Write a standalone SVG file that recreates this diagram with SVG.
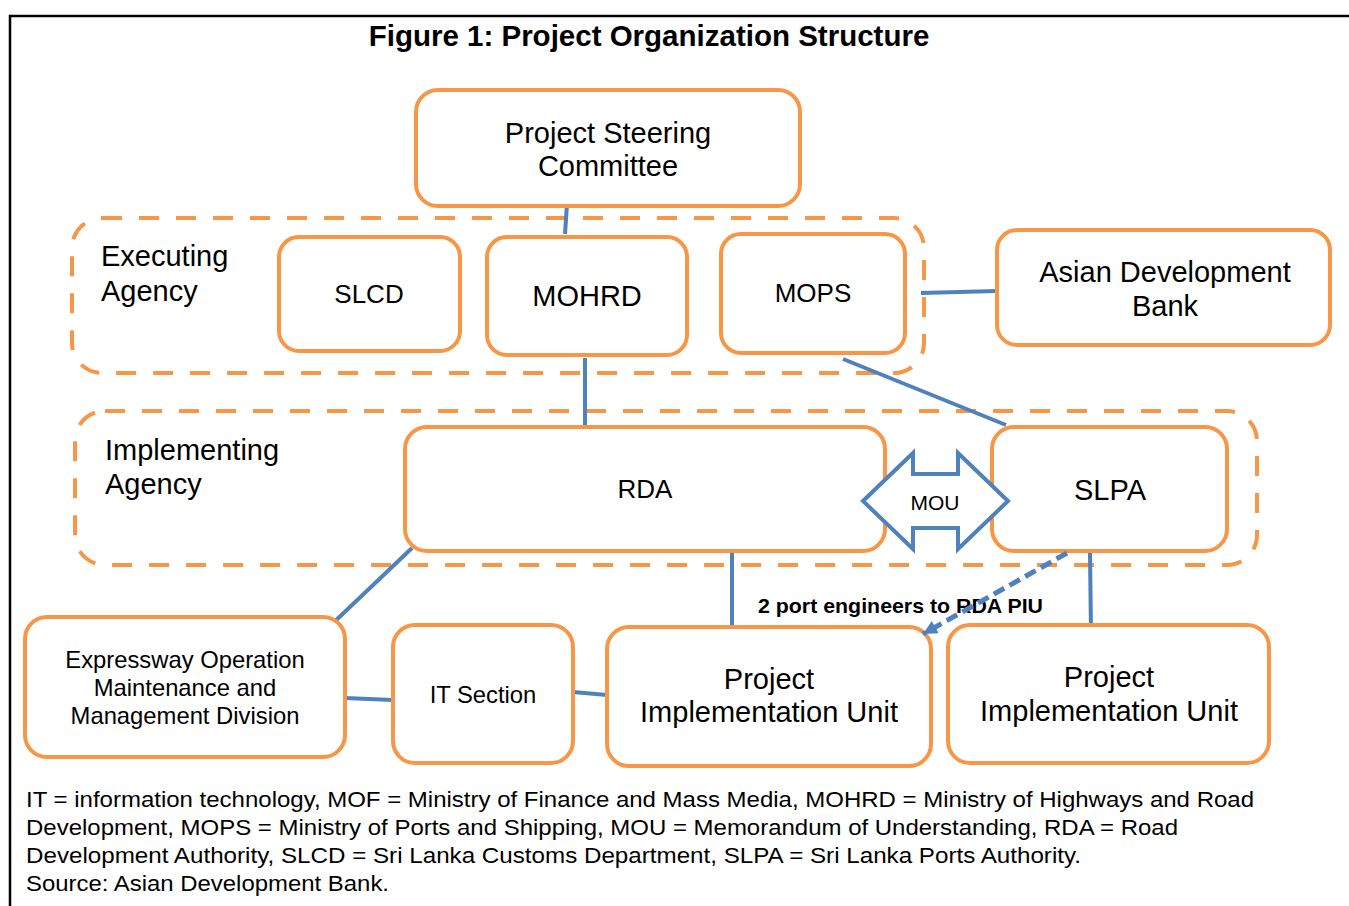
<svg xmlns="http://www.w3.org/2000/svg" width="1349" height="906" viewBox="0 0 1349 906">
  <style>
    text { font-family: "Liberation Sans", Arial, sans-serif; fill: #000; }
    .box { fill: #fff; stroke: #F79646; stroke-width: 4; }
    .group { fill: none; stroke: #F79646; stroke-width: 4; stroke-dasharray: 20 17; }
    .link { fill: none; stroke: #4F81BD; stroke-width: 4; }
    .big { font-size: 29px; text-anchor: middle; }
    .mid { font-size: 26px; text-anchor: middle; }
    .small { font-size: 23.8px; text-anchor: middle; }
    .grp-label { font-size: 29px; }
    .note { font-size: 22px; }
  </style>
  <defs>
    <marker id="ah" viewBox="0 0 10 10" refX="10" refY="5" markerWidth="17" markerHeight="14" markerUnits="userSpaceOnUse" orient="auto">
      <path d="M0,0 L10,5 L0,10 z" fill="#4F81BD"/>
    </marker>
  </defs>

  <rect width="1349" height="906" fill="#fff"/>
  <!-- figure frame -->
  <path d="M10,906 V16 H1349" fill="none" stroke="#000" stroke-width="2.5"/>

  <text x="649" y="46" font-size="29.5" font-weight="bold" text-anchor="middle">Figure 1: Project Organization Structure</text>

  <!-- agency groupings -->
  <g id="executing-agency">
    <rect class="group" x="72" y="218" width="852" height="155" rx="30"/>
    <text class="grp-label" x="101" y="266">Executing</text>
    <text class="grp-label" x="101" y="301">Agency</text>
  </g>
  <g id="implementing-agency">
    <rect class="group" x="75" y="411" width="1182" height="154" rx="30"/>
    <text class="grp-label" x="105" y="460">Implementing</text>
    <text class="grp-label" x="105" y="494">Agency</text>
  </g>

  <!-- connectors -->
  <g id="connectors">
    <line class="link" x1="567" y1="204" x2="565" y2="234"/>
    <line class="link" x1="585" y1="358" x2="585" y2="425"/>
    <line class="link" x1="921" y1="293" x2="997" y2="291"/>
    <line class="link" x1="843" y1="359" x2="1006" y2="425"/>
    <line class="link" x1="412" y1="548" x2="331" y2="625"/>
    <line class="link" x1="345" y1="698" x2="393" y2="700"/>
    <line class="link" x1="573" y1="692" x2="607" y2="695"/>
    <line class="link" x1="732" y1="545" x2="732" y2="627"/>
    <line class="link" x1="1090" y1="553" x2="1091" y2="633"/>
  </g>

  <g id="psc">
    <rect class="box" x="416" y="90" width="384" height="116" rx="22"/>
    <text class="big" x="608" y="143">Project Steering</text>
    <text class="big" x="608" y="176">Committee</text>
  </g>
  <g id="slcd">
    <rect class="box" x="279" y="237" width="181" height="114" rx="20"/>
    <text class="mid" x="369" y="303">SLCD</text>
  </g>
  <g id="mohrd">
    <rect class="box" x="487" y="237" width="200" height="118" rx="20"/>
    <text class="big" x="587" y="306">MOHRD</text>
  </g>
  <g id="mops">
    <rect class="box" x="721" y="234" width="184" height="119" rx="20"/>
    <text class="mid" x="813" y="302">MOPS</text>
  </g>
  <g id="adb">
    <rect class="box" x="997" y="230" width="333" height="115" rx="20"/>
    <text class="big" x="1165" y="282">Asian Development</text>
    <text class="big" x="1165" y="316">Bank</text>
  </g>
  <g id="rda">
    <rect class="box" x="405" y="427" width="480" height="124" rx="22"/>
    <text class="mid" x="645" y="498">RDA</text>
  </g>
  <g id="slpa">
    <rect class="box" x="992" y="427" width="235" height="124" rx="22"/>
    <text class="big" x="1110" y="500">SLPA</text>
  </g>
  <g id="mou">
    <polygon points="863,501 913,453 913,474 958,474 958,453 1008,501 958,549 958,528 913,528 913,549" fill="#fff" stroke="#4F81BD" stroke-width="4" stroke-linejoin="miter"/>
    <text x="935" y="510" font-size="21" text-anchor="middle">MOU</text>
  </g>
  <g id="eommd">
    <rect class="box" x="25" y="617" width="320" height="140" rx="22"/>
    <text class="small" x="185" y="668">Expressway Operation</text>
    <text class="small" x="185" y="696">Maintenance and</text>
    <text class="small" x="185" y="724">Management Division</text>
  </g>
  <g id="it-section">
    <rect class="box" x="393" y="625" width="180" height="138" rx="22"/>
    <text class="small" x="483" y="703">IT Section</text>
  </g>
  <g id="piu-rda">
    <rect class="box" x="607" y="627" width="324" height="139" rx="22"/>
    <text class="big" x="769" y="689">Project</text>
    <text class="big" x="769" y="722">Implementation Unit</text>
  </g>
  <g id="piu-slpa">
    <rect class="box" x="948" y="625" width="321" height="138" rx="22"/>
    <text class="big" x="1109" y="687">Project</text>
    <text class="big" x="1109" y="721">Implementation Unit</text>
  </g>

  <!-- secondment of port engineers -->
  <g id="secondment">
    <text x="758" y="613" font-size="20.5" font-weight="bold" textLength="285" lengthAdjust="spacingAndGlyphs">2 port engineers to RDA PIU</text>
    <line x1="1067" y1="553" x2="923" y2="634" stroke="#4F81BD" stroke-width="5" stroke-dasharray="12 6" marker-end="url(#ah)"/>
  </g>

  <!-- abbreviations and source -->
  <g id="notes">
    <text class="note" x="26" y="807" textLength="1228" lengthAdjust="spacingAndGlyphs">IT = information technology, MOF = Ministry of Finance and Mass Media, MOHRD = Ministry of Highways and Road</text>
    <text class="note" x="26" y="835" textLength="1152" lengthAdjust="spacingAndGlyphs">Development, MOPS = Ministry of Ports and Shipping, MOU = Memorandum of Understanding, RDA = Road</text>
    <text class="note" x="26" y="863" textLength="1055" lengthAdjust="spacingAndGlyphs">Development Authority, SLCD = Sri Lanka Customs Department, SLPA = Sri Lanka Ports Authority.</text>
    <text class="note" x="26" y="891" textLength="363" lengthAdjust="spacingAndGlyphs">Source: Asian Development Bank.</text>
  </g>
</svg>
